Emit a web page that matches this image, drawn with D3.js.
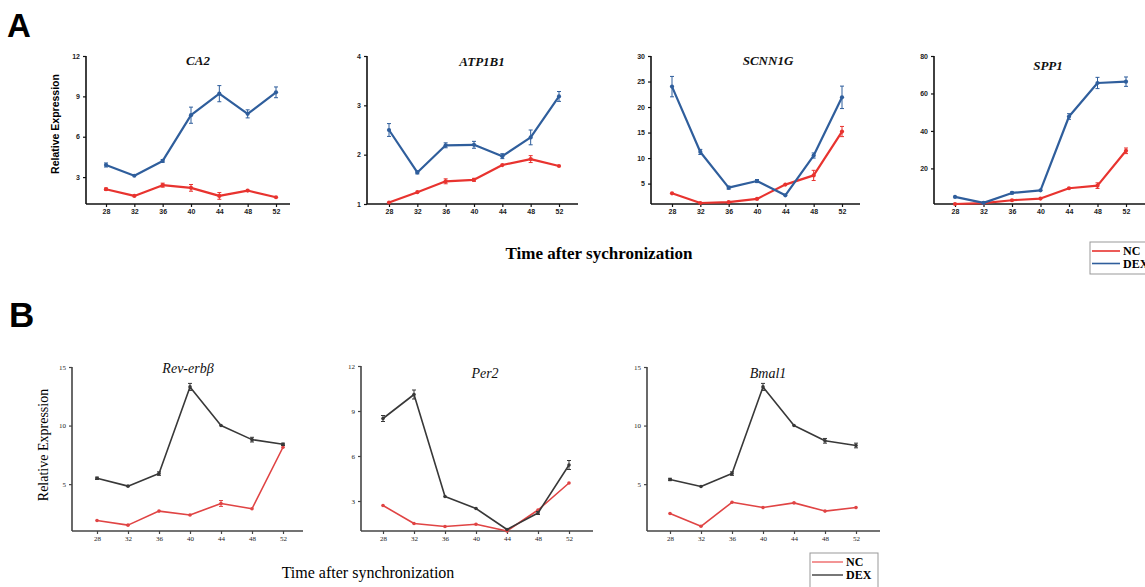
<!DOCTYPE html>
<html>
<head>
<meta charset="utf-8">
<script src="https://cdn.jsdelivr.net/npm/d3@7"></script>
<style>
  body { margin: 0; background: white; }
  svg { display: block; }
</style>
</head>
<body>
<svg id="fig"></svg>
<script>
// time points (hours after synchronization)
var hours = [28, 32, 36, 40, 44, 48, 52];

// Panel A
var ca2NC = [2.1, 1.6, 2.4, 2.2, 1.6, 2.0, 1.5];
var ca2NCErr = [0.08, 0, 0.15, 0.25, 0.25, 0, 0];
var ca2DEX = [3.9, 3.1, 4.2, 7.6, 9.2, 7.7, 9.3];
var ca2DEXErr = [0.15, 0, 0.1, 0.6, 0.6, 0.3, 0.4];
var ca2Ticks = [3, 6, 9, 12];

var atpNC = [1.03, 1.24, 1.46, 1.49, 1.79, 1.91, 1.77];
var atpNCErr = [0, 0, 0.05, 0.03, 0, 0.07, 0];
var atpDEX = [2.5, 1.64, 2.19, 2.2, 1.97, 2.35, 3.18];
var atpDEXErr = [0.13, 0.03, 0.05, 0.07, 0.05, 0.15, 0.1];
var atpTicks = [1, 2, 3, 4];

var scnNC = [3.1, 1.2, 1.35, 2.0, 4.8, 6.6, 15.2];
var scnNCErr = [0, 0, 0, 0, 0, 1.0, 1.0];
var scnDEX = [24, 11.2, 4.2, 5.5, 2.7, 10.5, 21.9];
var scnDEXErr = [2.0, 0.5, 0.3, 0.3, 0, 0.5, 2.2];
var scnTicks = [5, 10, 15, 20, 25, 30];

var sppNC = [1.0, 1.5, 3.0, 3.9, 9.4, 10.8, 29.4];
var sppNCErr = [0, 0, 0, 0, 0, 1.5, 1.5];
var sppDEX = [4.8, 1.6, 6.9, 8.3, 47.7, 65.6, 66.3];
var sppDEXErr = [0, 0, 0.5, 0, 1.5, 3, 2.5];
var sppTicks = [20, 40, 60, 80];

// Panel B
var revNC = [1.9, 1.5, 2.7, 2.37, 3.35, 2.9, 8.15];
var revNCErr = [0, 0, 0, 0, 0.25, 0, 0];
var revDEX = [5.5, 4.83, 5.9, 13.3, 10.0, 8.8, 8.4];
var revDEXErr = [0.1, 0, 0.15, 0.3, 0, 0.2, 0.1];
var revTicks = [5, 10, 15];

var perNC = [2.7, 1.5, 1.3, 1.45, 1.0, 2.4, 4.2];
var perNCErr = [0, 0, 0, 0, 0, 0, 0];
var perDEX = [8.5, 10.1, 3.3, 2.5, 1.1, 2.2, 5.4];
var perDEXErr = [0.2, 0.3, 0, 0, 0, 0.1, 0.3];
var perTicks = [3, 6, 9, 12];

var bmaNC = [2.5, 1.4, 3.45, 3.0, 3.4, 2.7, 3.0];
var bmaNCErr = [0, 0, 0, 0, 0, 0, 0];
var bmaDEX = [5.4, 4.8, 5.9, 13.3, 10.0, 8.7, 8.3];
var bmaDEXErr = [0.1, 0, 0.15, 0.3, 0, 0.2, 0.2];
var bmaTicks = [5, 10, 15];

var seriesNames = ["NC", "DEX"];

var dimensions = { width: 1145, height: 587 };

var svg = d3.select("#fig")
    .attr("width", dimensions.width)
    .attr("height", dimensions.height);

var styleA = {
    colors: ["#e8332f", "#2f5e9c"],
    lineWidth: 2.2,
    tickFont: "bold 7px 'Liberation Sans', Arial, sans-serif",
    titleFont: "bold italic 13px 'Liberation Serif', 'Times New Roman', serif",
    axisColor: "#111",
    dot: 2.1
};
var styleB = {
    colors: ["#e04444", "#383838"],
    lineWidth: 1.6,
    tickFont: "7px 'Liberation Serif', 'Times New Roman', serif",
    titleFont: "italic 14px 'Liberation Serif', 'Times New Roman', serif",
    axisColor: "#444",
    dot: 1.8
};

var charts = [
    { title: "CA2", nc: ca2NC, ncErr: ca2NCErr, dex: ca2DEX, dexErr: ca2DEXErr, ticks: ca2Ticks,
      yMin: 1, yMax: 12, left: 86, first: 106, last: 276, end: 290, top: 56, bottom: 204,
      titleX: 198, titleY: 65, style: styleA },
    { title: "ATP1B1", nc: atpNC, ncErr: atpNCErr, dex: atpDEX, dexErr: atpDEXErr, ticks: atpTicks,
      yMin: 1, yMax: 4, left: 367, first: 389, last: 559, end: 578, top: 56, bottom: 204,
      titleX: 482, titleY: 66, style: styleA },
    { title: "SCNN1G", nc: scnNC, ncErr: scnNCErr, dex: scnDEX, dexErr: scnDEXErr, ticks: scnTicks,
      yMin: 1, yMax: 30, left: 651, first: 672, last: 842, end: 860, top: 56, bottom: 204,
      titleX: 768, titleY: 65, style: styleA },
    { title: "SPP1", nc: sppNC, ncErr: sppNCErr, dex: sppDEX, dexErr: sppDEXErr, ticks: sppTicks,
      yMin: 1, yMax: 80, left: 934, first: 955, last: 1126, end: 1150, top: 56, bottom: 204,
      titleX: 1048, titleY: 70, style: styleA },
    { title: "Rev-erbβ", nc: revNC, ncErr: revNCErr, dex: revDEX, dexErr: revDEXErr, ticks: revTicks,
      yMin: 1, yMax: 15, left: 72, first: 97, last: 283, end: 303, top: 367, bottom: 531,
      titleX: 188, titleY: 373, style: styleB },
    { title: "Per2", nc: perNC, ncErr: perNCErr, dex: perDEX, dexErr: perDEXErr, ticks: perTicks,
      yMin: 1, yMax: 12, left: 361, first: 383, last: 569, end: 593, top: 366, bottom: 531,
      titleX: 485, titleY: 378, style: styleB },
    { title: "Bmal1", nc: bmaNC, ncErr: bmaNCErr, dex: bmaDEX, dexErr: bmaDEXErr, ticks: bmaTicks,
      yMin: 1, yMax: 15, left: 647, first: 670, last: 856, end: 880, top: 367, bottom: 531,
      titleX: 768, titleY: 378, style: styleB }
];

charts.forEach(function (c) {
    var st = c.style;
    var g = svg.append("g").attr("class", "chart");

    var xScale = d3.scaleLinear().domain([hours[0], hours[hours.length - 1]]).range([c.first, c.last]);
    var yScale = d3.scaleLinear().domain([c.yMin, c.yMax]).range([c.bottom, c.top]);

    // x axis
    var xAxis = g.append("g")
        .attr("transform", `translate(0,${c.bottom})`)
        .call(d3.axisBottom(xScale).tickValues(hours).tickFormat(d => d).tickSize(3).tickPadding(2).tickSizeOuter(0));
    xAxis.select(".domain").attr("d", `M${c.left},0H${c.end}`);

    // y axis
    var yAxis = g.append("g")
        .attr("transform", `translate(${c.left},0)`)
        .call(d3.axisLeft(yScale).tickValues(c.ticks).tickFormat(d => d).tickSize(3).tickPadding(3).tickSizeOuter(0));
    yAxis.select(".domain").attr("d", `M0,${c.top}V${c.bottom}`);

    [xAxis, yAxis].forEach(function (ax) {
        ax.select(".domain").attr("stroke", st.axisColor).attr("stroke-width", 1.6);
        ax.selectAll(".tick line").attr("stroke", st.axisColor).attr("stroke-width", 1.2);
        ax.selectAll(".tick text").style("font", st.tickFont).attr("fill", "#222");
    });

    g.append("text")
        .attr("x", c.titleX)
        .attr("y", c.titleY)
        .attr("text-anchor", "middle")
        .style("font", st.titleFont)
        .attr("fill", "#111")
        .text(c.title);

    var line = d3.line()
        .x((d, i) => xScale(hours[i]))
        .y(d => yScale(d));

    [[c.nc, c.ncErr], [c.dex, c.dexErr]].forEach(function (s, k) {
        var col = st.colors[k];
        var vals = s[0], errs = s[1];

        g.append("path")
            .attr("d", line(vals))
            .attr("fill", "none")
            .attr("stroke", col)
            .attr("stroke-width", st.lineWidth)
            .attr("stroke-linejoin", "round");

        // error bars
        var eb = g.selectAll(null)
            .data(vals.map((v, i) => ({ h: hours[i], v: v, e: errs[i] })).filter(d => d.e > 0))
            .enter()
            .append("g")
            .attr("stroke", col)
            .attr("stroke-width", 1);
        eb.append("line")
            .attr("x1", d => xScale(d.h)).attr("x2", d => xScale(d.h))
            .attr("y1", d => yScale(d.v - d.e)).attr("y2", d => yScale(d.v + d.e));
        eb.append("line")
            .attr("x1", d => xScale(d.h) - 2).attr("x2", d => xScale(d.h) + 2)
            .attr("y1", d => yScale(d.v + d.e)).attr("y2", d => yScale(d.v + d.e));
        eb.append("line")
            .attr("x1", d => xScale(d.h) - 2).attr("x2", d => xScale(d.h) + 2)
            .attr("y1", d => yScale(d.v - d.e)).attr("y2", d => yScale(d.v - d.e));

        g.selectAll(null)
            .data(vals)
            .enter()
            .append("circle")
            .attr("cx", (d, i) => xScale(hours[i]))
            .attr("cy", d => yScale(d))
            .attr("r", st.dot)
            .attr("fill", col);
    });
});

// panel letters
svg.append("text").attr("x", 7).attr("y", 37)
    .style("font", "bold 33px 'Liberation Sans', Arial, sans-serif").text("A");
svg.append("text").attr("x", 9).attr("y", 327)
    .style("font", "bold 35px 'Liberation Sans', Arial, sans-serif").text("B");

// y labels
svg.append("text")
    .attr("transform", "translate(59,124) rotate(-90)")
    .attr("text-anchor", "middle")
    .style("font", "bold 10.5px 'Liberation Sans', Arial, sans-serif")
    .text("Relative Expression");
svg.append("text")
    .attr("transform", "translate(48,445) rotate(-90)")
    .attr("text-anchor", "middle")
    .style("font", "14px 'Liberation Serif', 'Times New Roman', serif")
    .text("Relative Expression");

// x titles
svg.append("text")
    .attr("x", 599).attr("y", 259)
    .attr("text-anchor", "middle")
    .style("font", "bold 17px 'Liberation Serif', 'Times New Roman', serif")
    .text("Time after sychronization");
svg.append("text")
    .attr("x", 368).attr("y", 578)
    .attr("text-anchor", "middle")
    .style("font", "16px 'Liberation Serif', 'Times New Roman', serif")
    .text("Time after synchronization");

// legends
function drawLegend(x, y, w, h, colors, lineLen, gap) {
    var lg = svg.append("g").attr("transform", `translate(${x},${y})`);
    lg.append("rect").attr("width", w).attr("height", h)
        .attr("fill", "white").attr("stroke", "#999").attr("stroke-width", 1);
    var item = lg.selectAll(".legend")
        .data(seriesNames)
        .enter()
        .append("g")
        .attr("class", "legend")
        .attr("transform", (d, i) => `translate(0,${9 + i * gap})`);
    item.append("line")
        .attr("x1", 2).attr("x2", 2 + lineLen)
        .attr("stroke", (d, i) => colors[i]).attr("stroke-width", 1.6);
    item.append("text")
        .attr("x", lineLen + 5).attr("dy", "0.35em")
        .style("font", "bold 12px 'Liberation Serif', 'Times New Roman', serif")
        .text(d => d);
}
drawLegend(1090, 242, 70, 32, styleA.colors, 28, 12.5);
drawLegend(810, 553, 68, 40, ["#f07a7a", "#555"], 31, 13);
</script>
</body>
</html>
